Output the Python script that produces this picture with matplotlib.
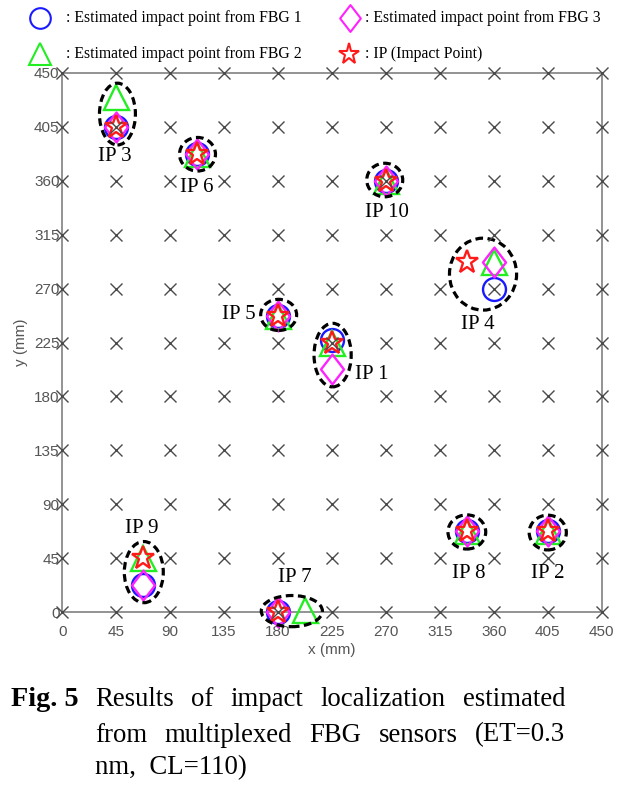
import numpy as np
import matplotlib
matplotlib.use('Agg')
import matplotlib.pyplot as plt
from matplotlib.patches import Ellipse
from matplotlib.path import Path
from matplotlib.lines import Line2D

# impact points (mm)
ip_names = ['IP 1', 'IP 2', 'IP 3', 'IP 4', 'IP 5', 'IP 6', 'IP 7', 'IP 8', 'IP 9', 'IP 10']
ip_x = [225, 405, 45, 337.5, 180, 112.5, 180, 337.5, 67.5, 270]
ip_y = [225, 67.5, 405, 292.5, 247.5, 382.5, 0, 67.5, 45, 360]

# estimated points from each FBG
fbg1_x = [225, 405, 45, 360, 180, 112.5, 180, 337.5, 67.5, 270]
fbg1_y = [227, 67.5, 405, 270, 247.5, 382.5, 0, 67.5, 22.5, 360]
fbg2_x = [225, 405, 45, 360, 180, 112.5, 202.5, 337.5, 67.5, 270]
fbg2_y = [225, 67.5, 430, 292.5, 247.5, 382.5, 2, 67.5, 45, 360]
fbg3_x = [225, 405, 45, 360, 180, 112.5, 180, 337.5, 67.5, 270]
fbg3_y = [202.5, 67.5, 405, 292.5, 247.5, 382.5, 0, 67.5, 22.5, 360]

ticks = [0, 45, 90, 135, 180, 225, 270, 315, 360, 405, 450]

legend_labels = [': Estimated impact point from FBG 1', ': Estimated impact point from FBG 2',
                 ': Estimated impact point from FBG 3', ': IP (Impact Point)']

# label / ellipse placement
lab_x = [258, 405, 44, 347, 147, 112, 194, 339, 66, 271]
lab_y = [198, 32, 380, 240, 248, 354, 29, 32, 70, 333]
ell_x = [225.5, 405, 46, 351, 180.5, 112.8, 191.5, 337.5, 68, 269]
ell_y = [214.5, 66.5, 415.5, 282, 248, 382, 1, 67, 33.5, 360.5]
ell_w = [31, 31, 30, 56, 30, 30, 51, 31.5, 32.5, 30]
ell_h = [53, 29, 51.5, 60, 26, 28, 26, 28.5, 51, 28]

SERIF = 'Liberation Serif'
SANS = 'Liberation Sans'
W, H = 633, 789

diamond = Path([(0, -1), (0.77, 0), (0, 1), (-0.77, 0), (0, -1)],
               [Path.MOVETO, Path.LINETO, Path.LINETO, Path.LINETO, Path.CLOSEPOLY])

styles = [
    dict(marker='o', color='#1a1aff', ms=16.5),
    dict(marker='^', color='#22ee22', ms=18),
    dict(marker=diamond, color='#ff22ff', ms=21.5),
    dict(marker='*', color='#ff1a1a', ms=17),
]


def px(x, y):
    return x / W, 1 - y / H


fig = plt.figure(figsize=(W / 100, H / 100), dpi=100)
ax = fig.add_axes([62.3 / W, 1 - 612.3 / H, (601.7 - 62.3) / W, (612.3 - 72.7) / H])

# background grid of sensor positions
gx, gy = np.meshgrid(ticks, ticks)
ax.plot(gx.ravel(), gy.ravel(), 'x', color='#4a4a4a', ms=8, mew=1.0, clip_on=False, zorder=6)

series = [(fbg1_x, fbg1_y), (fbg2_x, fbg2_y), (fbg3_x, fbg3_y), (ip_x, ip_y)]
for (sx, sy), st in zip(series, styles):
    ax.plot(sx, sy, linestyle='none', marker=st['marker'], ms=st['ms'], mfc='none',
            mec=st['color'], mew=1.7, clip_on=False, zorder=3)

for i in range(len(ip_names)):
    e = Ellipse((ell_x[i], ell_y[i]), ell_w[i], ell_h[i], fill=False, ec='black',
                lw=2.3, linestyle=(0, (2.4, 1.4)), zorder=5, clip_on=False)
    ax.add_patch(e)
    ax.text(lab_x[i], lab_y[i], ip_names[i], family=SERIF, fontsize=15,
            ha='center', va='center', zorder=7)

ax.set_xlim(0, 450)
ax.set_ylim(0, 450)
ax.set_xticks(ticks)
ax.set_yticks(ticks)
ax.tick_params(length=0, labelsize=11, labelcolor='#555555')
ax.tick_params(axis='x', pad=9)
ax.tick_params(axis='y', pad=2)
for lab in ax.get_xticklabels() + ax.get_yticklabels():
    lab.set_family(SANS)
for s in ax.spines.values():
    s.set_color('#8a8a8a')
    s.set_linewidth(1.3)
ax.set_xlabel('x (mm)', family=SANS, fontsize=11, color='#555555', labelpad=3)
ax.set_ylabel('y (mm)', family=SANS, fontsize=11, color='#555555', labelpad=4)

# legend drawn above the axes
leg_pos = [(40, 18, 66), (40, 54, 66), (350, 18, 365), (349, 54, 365)]
for st, lab, (mx, my, tx) in zip(styles, legend_labels, leg_pos):
    fx, fy = px(mx, my)
    fig.add_artist(Line2D([fx], [fy], transform=fig.transFigure, linestyle='none',
                          marker=st['marker'], ms=st['ms'] * 0.9, mfc='none',
                          mec=st['color'], mew=1.5))
    tx_, ty_ = px(tx, my)
    fig.text(tx_, ty_, lab, family=SERIF, fontsize=11.3, va='center', ha='left')

# caption
renderer = fig.canvas.get_renderer()


def justify(text, x0, x1, y, **kw):
    words = text.split()
    ts = [fig.text(0, px(0, y)[1], w, va='center', ha='left', **kw) for w in words]
    widths = [t.get_window_extent(renderer).width for t in ts]
    gap = (x1 - x0 - sum(widths)) / (len(words) - 1)
    x = x0
    for t, w in zip(ts, widths):
        t.set_x(x / W)
        x += w + gap


fig.text(*px(11, 700), 'Fig. 5', family=SERIF, fontweight='bold', fontsize=20.3,
         va='center', ha='left')
justify('Results of impact localization estimated', 95, 565, 700, family=SERIF, fontsize=19.3)
justify('from multiplexed FBG sensors (ET=0.3', 95, 565, 735, family=SERIF, fontsize=19.3)
fig.text(*px(95, 768), 'nm,  CL=110)', family=SERIF, fontsize=19.3, va='center', ha='left')

fig.savefig('out.png', dpi=100)
